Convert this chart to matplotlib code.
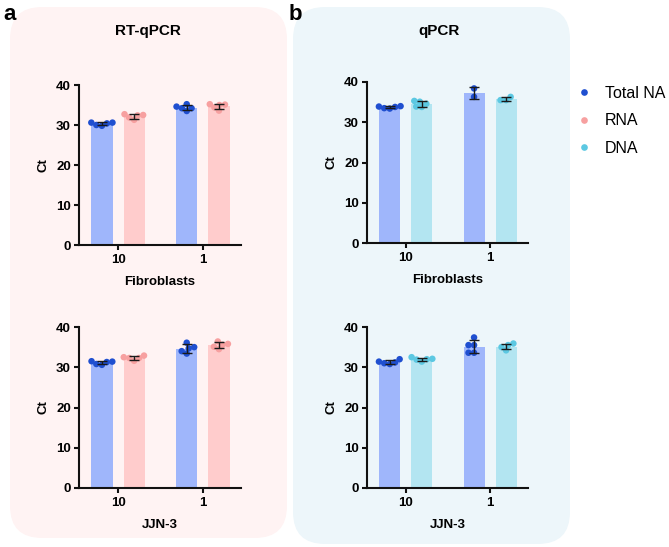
import numpy as np
import matplotlib
matplotlib.use("Agg")
import matplotlib.pyplot as plt
from matplotlib.patches import FancyBboxPatch
from matplotlib.lines import Line2D
from matplotlib.transforms import IdentityTransform

plt.rcParams['font.family'] = ['Liberation Sans', 'DejaVu Sans']

# ---------------- data ----------------
samples = ["10", "1"]
series_names = ["Total NA", "RNA", "DNA"]

rt_fib_total = [[30.0, 30.6, 30.6, 30.4, 29.8], [34.6, 33.5, 35.2, 34.2, 34.2]]
rt_fib_rna = [[32.5, 31.3, 32.7, 31.9, 32.4], [35.0, 33.6, 35.2, 35.1, 34.4]]
rt_jjn_total = [[30.8, 31.4, 31.5, 31.3, 30.6], [35.0, 33.4, 34.7, 36.1, 34.0]]
rt_jjn_rna = [[32.9, 31.6, 32.3, 32.5, 32.3], [35.6, 34.5, 35.8, 36.4, 35.1]]

q_fib_total = [[33.4, 34.0, 33.8, 33.9, 33.5], [38.4, 36.3]]
q_fib_dna = [[35.1, 33.8, 34.6, 35.3, 33.9], [35.5, 36.3, 35.5]]
q_jjn_total = [[31.0, 32.0, 31.2, 31.4, 30.8], [35.5, 33.6, 37.4, 35.5, 33.6]]
q_jjn_dna = [[32.5, 31.4, 32.0, 31.9, 32.1], [35.9, 34.2, 35.5, 35.0]]

panel_titles = ["RT-qPCR", "qPCR"]
cell_lines = ["Fibroblasts", "JJN-3"]

# ---------------- style ----------------
dot_col = {"Total NA": "#1f4fd0", "RNA": "#f7a0a0", "DNA": "#5cc8e2"}
bar_col = {"Total NA": "#9fb6fb", "RNA": "#ffcccc", "DNA": "#b3e5f1"}
bg_a = "#fff3f3"
bg_b = "#edf6fa"

W, H = 669, 547
fig = plt.figure(figsize=(W / 100, H / 100), dpi=100)

# rounded background panels (pixel coords)
for (x0, ytop, w, h, c) in [(10, 7, 277, 531, bg_a), (293, 7, 277, 537, bg_b)]:
    p = FancyBboxPatch((x0, H - ytop - h), w, h,
                       boxstyle="round,pad=0,rounding_size=32",
                       transform=IdentityTransform(), facecolor=c,
                       edgecolor="none", zorder=-10)
    fig.patches.append(p)


def add_axes(left, right, top, bottom):
    return fig.add_axes([left / W, (H - bottom) / H, (right - left) / W, (bottom - top) / H])


def swarm_offsets(vals, px_per_y=4.02, px_per_x=85.0, diam=5.6):
    """Simple beeswarm: returns x offsets (data units) for a column of values."""
    vals = np.asarray(vals, dtype=float)
    ys = vals * px_per_y
    order = np.argsort(ys)
    placed = []
    xs = np.zeros(len(vals))
    for i in order:
        y = ys[i]
        cands = [0.0]
        for (px, py) in placed:
            dy = y - py
            if abs(dy) < diam:
                dx = np.sqrt(diam ** 2 - dy ** 2)
                cands += [px + dx, px - dx]
        cands = sorted(cands, key=lambda c: (abs(c), c))
        for c in cands:
            if all((c - px) ** 2 + (y - py) ** 2 >= diam ** 2 - 1e-6 for px, py in placed):
                xs[i] = c
                placed.append((c, y))
                break
    return xs / px_per_x


panels = [
    (add_axes(79, 241, 85, 245), rt_fib_total, rt_fib_rna, "RNA", cell_lines[0]),
    (add_axes(79, 241, 327, 488), rt_jjn_total, rt_jjn_rna, "RNA", cell_lines[1]),
    (add_axes(367, 528, 82, 243), q_fib_total, q_fib_dna, "DNA", cell_lines[0]),
    (add_axes(367, 528, 327, 488), q_jjn_total, q_jjn_dna, "DNA", cell_lines[1]),
]

x = np.arange(len(samples))
off = 0.19
bw = 0.25

for ax, tot, other, oname, xlabel in panels:
    ax.set_facecolor("none")
    for s_name, data, sign in [("Total NA", tot, -1), (oname, other, 1)]:
        means = [np.mean(d) for d in data]
        sds = [np.std(d, ddof=1) for d in data]
        pos = x + sign * off
        ax.bar(pos, means, width=bw, color=bar_col[s_name], zorder=1)
        for p, d in zip(pos, data):
            xs = p + swarm_offsets(d)
            ax.scatter(xs, d, s=22, color=dot_col[s_name], edgecolor="none", zorder=2)
        ax.errorbar(pos, means, yerr=sds, fmt="none", ecolor="#1a1a1a",
                    elinewidth=1.0, capsize=3.8, capthick=1.0, zorder=3)
    ax.set_xlim(-0.46, 1.45)
    ax.set_ylim(0, 40)
    ax.set_yticks([0, 10, 20, 30, 40])
    ax.set_xticks(x)
    ax.set_xticklabels(samples)
    for sp in ["top", "right"]:
        ax.spines[sp].set_visible(False)
    for sp in ["left", "bottom"]:
        ax.spines[sp].set_linewidth(1.5)
        ax.spines[sp].set_color("#111111")
    ax.tick_params(axis="both", length=3.8, width=1.5, color="#111111",
                   labelsize=9.5, pad=2)
    ax.tick_params(axis="x", pad=3)
    for lab in ax.get_xticklabels() + ax.get_yticklabels():
        lab.set_fontweight("bold")
    ax.set_ylabel("Ct", fontsize=9.5, fontweight="bold", labelpad=5)
    ax.set_xlabel(xlabel, fontsize=9.5, fontweight="bold", labelpad=7)

# panel titles and letters
fig.text(148 / W, 1 - 31 / H, panel_titles[0], ha="center", va="center",
         fontsize=11, fontweight="bold")
fig.text(439 / W, 1 - 31 / H, panel_titles[1], ha="center", va="center",
         fontsize=11, fontweight="bold")
fig.text(3 / W, 1 - 14 / H, "a", ha="left", va="center", fontsize=16, fontweight="bold")
fig.text(289 / W, 1 - 14 / H, "b", ha="left", va="center", fontsize=16, fontweight="bold")

# legend
handles = [Line2D([], [], marker="o", linestyle="none", markersize=4.8,
                  markerfacecolor=dot_col[n], markeredgecolor="none") for n in series_names]
fig.legend(handles, series_names, loc="upper left",
           bbox_to_anchor=(566 / W, 1 - 78 / H), frameon=False, fontsize=11.5,
           handletextpad=0.75, labelspacing=0.78, handlelength=1.2, borderpad=0)

fig.savefig("out.png", dpi=100, facecolor="white")
